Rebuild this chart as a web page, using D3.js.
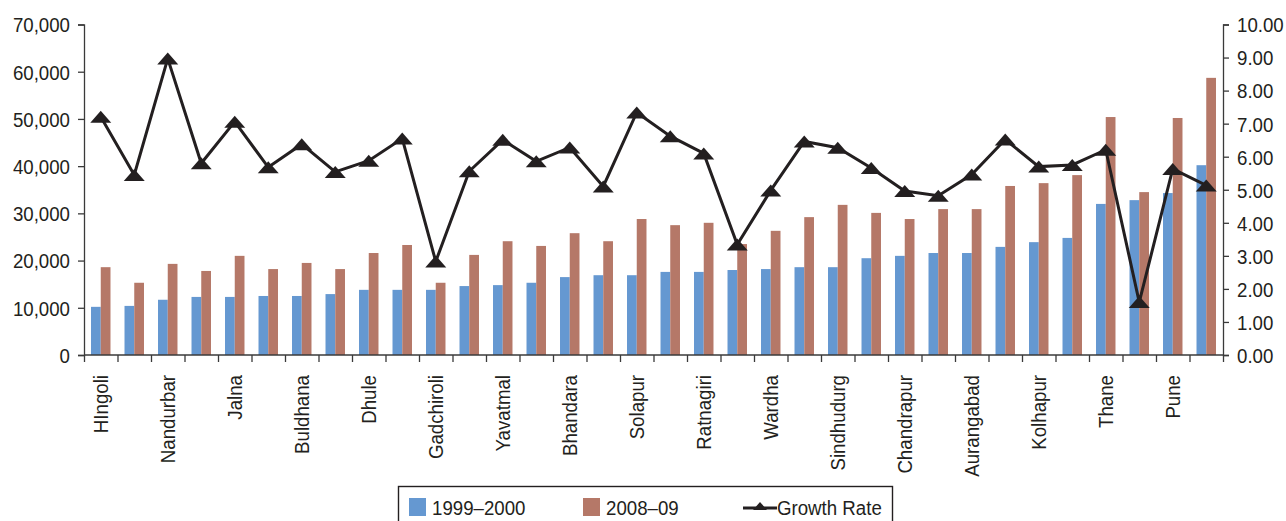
<!DOCTYPE html>
<html>
<head>
<meta charset="utf-8">
<script src="https://cdn.jsdelivr.net/npm/d3@7"></script>
<style>
  html, body { margin: 0; padding: 0; background: #fff; }
  svg { display: block; }
  text { font-family: "Liberation Sans", Arial, sans-serif; fill: #231F20; }
</style>
</head>
<body>
<svg id="chart" width="1286" height="521"></svg>
<script>
// District names printed under the axis (every other category carries a label)
const districtLabels = [
  "HIngoli", "", "Nandurbar", "", "Jalna", "", "Buldhana", "", "Dhule", "",
  "Gadchiroli", "", "Yavatmal", "", "Bhandara", "", "Solapur", "", "Ratnagiri", "",
  "Wardha", "", "Sindhudurg", "", "Chandrapur", "", "Aurangabad", "", "Kolhapur", "",
  "Thane", "", "Pune", ""
];

// Per-capita income, 1999–2000
const income1999 = [
  10200, 10400, 11700, 12300, 12300, 12500, 12500, 12900, 13800, 13800,
  13800, 14600, 14800, 15300, 16500, 16900, 16900, 17600, 17600, 18000,
  18200, 18600, 18600, 20500, 21000, 21600, 21600, 22900, 23900, 24800,
  32000, 32800, 34300, 40200
];

// Per-capita income, 2008–09
const income2008 = [
  18600, 15300, 19300, 17800, 21000, 18200, 19500, 18200, 21600, 23300,
  15300, 21200, 24100, 23100, 25800, 24100, 28800, 27500, 28000, 23500,
  26300, 29200, 31800, 30100, 28800, 30900, 30900, 35800, 36400, 38100,
  50400, 34500, 50200, 58700
];

// Annual growth rate (%), right axis
const growthRate = [
  7.21, 5.45, 8.97, 5.80, 7.06, 5.68, 6.38, 5.54, 5.88, 6.55,
  2.83, 5.56, 6.51, 5.86, 6.28, 5.10, 7.34, 6.62, 6.10, 3.34,
  4.98, 6.46, 6.27, 5.66, 4.96, 4.82, 5.46, 6.52, 5.70, 5.75,
  6.21, 1.60, 5.63, 5.13
];

const leftTicks = [0, 10000, 20000, 30000, 40000, 50000, 60000, 70000];
const rightTicks = [0, 1, 2, 3, 4, 5, 6, 7, 8, 9, 10];
const seriesNames = ["1999–2000", "2008–09", "Growth Rate"];

const colors = { y1999: "#6598D1", y2008: "#B57868", line: "#231F20", axis: "#3a3a3a" };
const squeeze = 0.89;   // horizontal compression for a condensed look

const svg = d3.select("#chart");
const plot = { left: 84, right: 1223, top: 24.5, bottom: 355 };

const idx = d3.range(districtLabels.length);

const x = d3.scaleBand().domain(idx).range([plot.left, plot.right]).padding(0);
const xEdges = d3.scaleLinear().domain([0, idx.length]).range([plot.left, plot.right]);
const pair = d3.scaleBand().domain(["a", "b"]).range([0, x.bandwidth()])
  .paddingInner(0).paddingOuter(0.72);

const yL = d3.scaleLinear().domain([0, 70000]).range([plot.bottom, plot.top]);
const yR = d3.scaleLinear().domain([0, 10]).range([plot.bottom, plot.top]);

// Bars
const groups = svg.append("g").selectAll("g").data(idx).join("g")
  .attr("transform", i => `translate(${x(i)},0)`);

groups.append("rect")
  .attr("x", pair("a")).attr("width", pair.bandwidth())
  .attr("y", i => yL(income1999[i])).attr("height", i => yL(0) - yL(income1999[i]))
  .attr("fill", colors.y1999);

groups.append("rect")
  .attr("x", pair("b")).attr("width", pair.bandwidth())
  .attr("y", i => yL(income2008[i])).attr("height", i => yL(0) - yL(income2008[i]))
  .attr("fill", colors.y2008);

// Axes
function styleAxis(g) {
  g.select(".domain").attr("stroke", colors.axis).attr("stroke-width", 1.3);
  g.selectAll(".tick line").attr("stroke", colors.axis).attr("stroke-width", 1.3);
  g.selectAll("text").attr("font-size", 21).attr("fill", "#231F20");
}

const leftAxis = svg.append("g")
  .attr("transform", `translate(${plot.left},0)`)
  .call(d3.axisLeft(yL).tickValues(leftTicks).tickFormat(d3.format(",")).tickSizeOuter(0).tickSize(6).tickPadding(8))
  .call(styleAxis);
leftAxis.selectAll("text")
  .attr("dy", "0.35em")
  .attr("transform", function () { return `translate(${-14 * (1 - squeeze)},0) scale(${squeeze},1)`; });

const rightAxis = svg.append("g")
  .attr("transform", `translate(${plot.right},0)`)
  .call(d3.axisRight(yR).tickValues(rightTicks).tickFormat(d3.format(".2f")).tickSizeOuter(0).tickSize(6).tickPadding(8))
  .call(styleAxis);
rightAxis.selectAll("text")
  .attr("dy", "0.35em")
  .attr("transform", `translate(${14 * (1 - squeeze)},0) scale(${squeeze},1)`);

// Category boundary ticks along the bottom
svg.append("g")
  .attr("transform", `translate(0,${plot.bottom})`)
  .call(d3.axisBottom(xEdges).tickValues(d3.range(idx.length + 1)).tickFormat("").tickSizeOuter(0).tickSize(7))
  .call(styleAxis)
  .select(".domain").attr("d", `M${plot.left},0H${plot.right}`);

// Rotated district labels
const labelAxis = svg.append("g")
  .attr("transform", `translate(0,${plot.bottom})`)
  .call(d3.axisBottom(x).tickFormat(i => districtLabels[i]).tickSize(0).tickPadding(0));
labelAxis.select(".domain").remove();
labelAxis.selectAll("text")
  .attr("font-size", 21)
  .attr("text-anchor", "end")
  .attr("dy", "0.36em")
  .attr("x", -20)
  .attr("y", 0)
  .attr("transform", `rotate(-90) scale(${squeeze},1)`)
  .attr("x", -20 / squeeze);

// Growth rate line with triangle markers
const line = d3.line()
  .x(i => x(i) + x.bandwidth() / 2)
  .y(i => yR(growthRate[i]));

svg.append("path")
  .datum(idx)
  .attr("d", line)
  .attr("fill", "none")
  .attr("stroke", colors.line)
  .attr("stroke-width", 3)
  .attr("stroke-linejoin", "miter");

const tri = (w, h) => `M0,${-h / 2}L${w / 2},${h / 2}L${-w / 2},${h / 2}Z`;

svg.append("g").selectAll("path").data(idx).join("path")
  .attr("transform", i => `translate(${x(i) + x.bandwidth() / 2},${yR(growthRate[i])})`)
  .attr("d", tri(21, 12))
  .attr("fill", colors.line);

// Legend
const legend = svg.append("g");
legend.append("rect")
  .attr("x", 398.5).attr("y", 486.5).attr("width", 494).attr("height", 60)
  .attr("fill", "#fff").attr("stroke", "#231F20").attr("stroke-width", 1.4);

legend.append("rect").attr("x", 409).attr("y", 498).attr("width", 17).attr("height", 18).attr("fill", colors.y1999);
legend.append("text").attr("x", 432 / squeeze).attr("y", 515).attr("font-size", 21)
  .attr("transform", `scale(${squeeze},1)`).text(seriesNames[0]);

legend.append("rect").attr("x", 583).attr("y", 498).attr("width", 17).attr("height", 18).attr("fill", colors.y2008);
legend.append("text").attr("x", 606 / squeeze).attr("y", 515).attr("font-size", 21)
  .attr("transform", `scale(${squeeze},1)`).text(seriesNames[1]);

legend.append("line").attr("x1", 743).attr("x2", 777).attr("y1", 508).attr("y2", 508)
  .attr("stroke", colors.line).attr("stroke-width", 3);
legend.append("path").attr("transform", "translate(760,506)").attr("d", tri(14, 8)).attr("fill", colors.line);
legend.append("text").attr("x", 777 / squeeze).attr("y", 515).attr("font-size", 21)
  .attr("transform", `scale(${squeeze},1)`).text(seriesNames[2]);
</script>
</body>
</html>
